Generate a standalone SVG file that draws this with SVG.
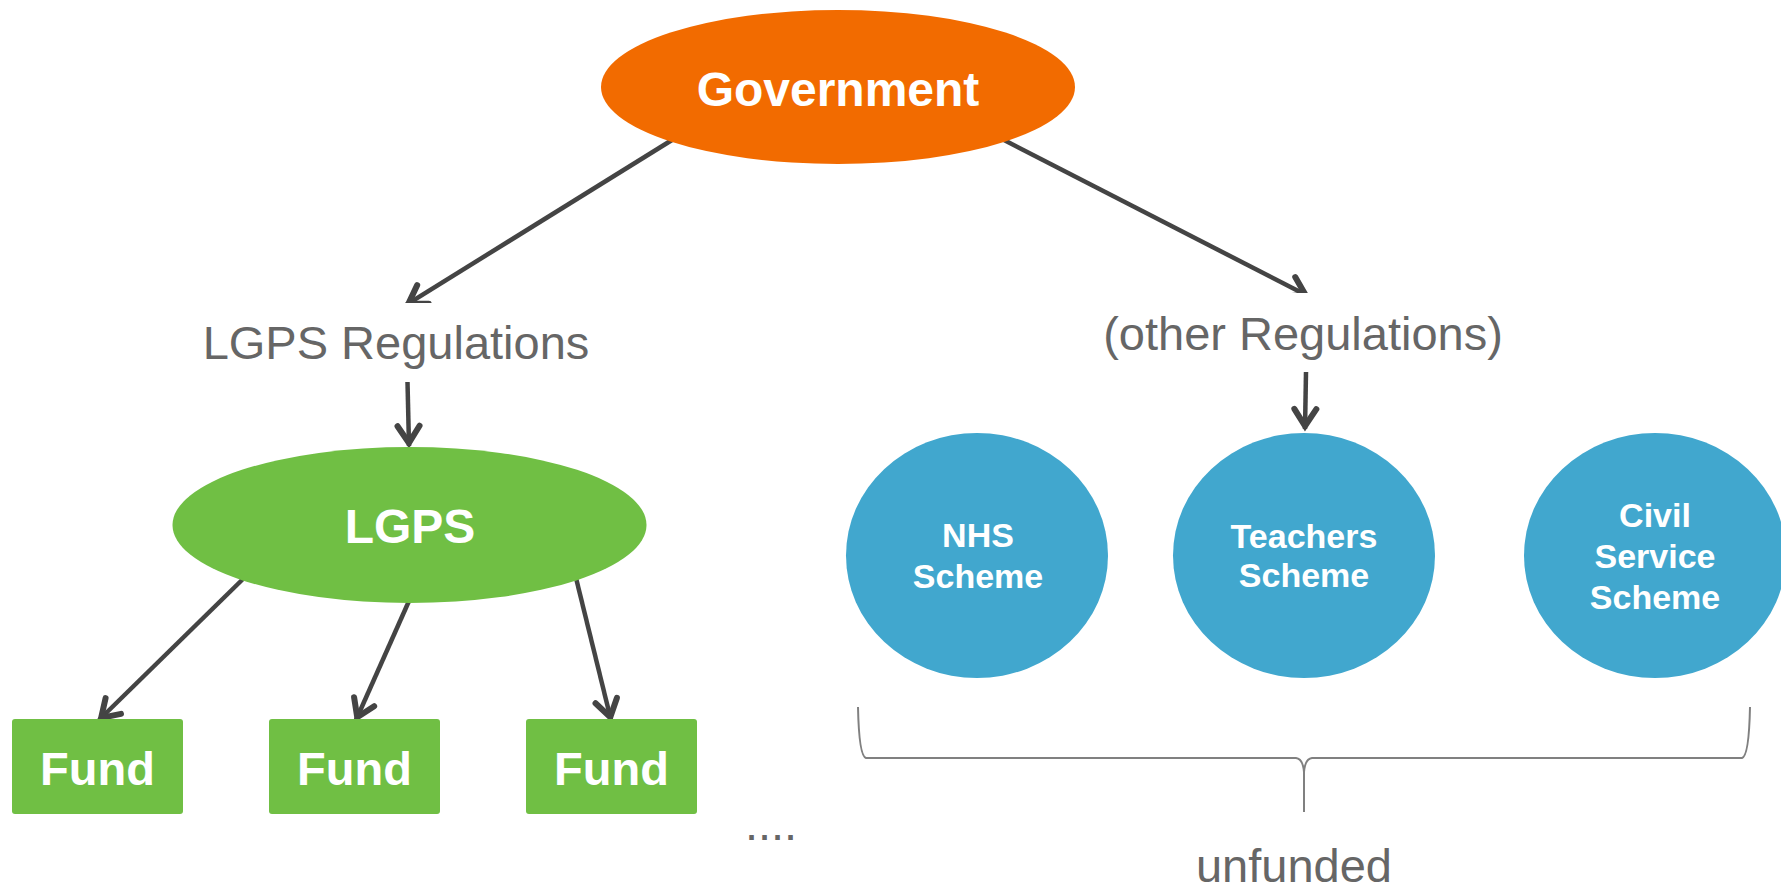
<svg xmlns="http://www.w3.org/2000/svg" width="1781" height="888" viewBox="0 0 1781 888">
<style>
.lbl{font-family:"Liberation Sans",Arial,sans-serif;fill:#666666;font-size:47px;text-anchor:middle}
.wt{font-family:"Liberation Sans",Arial,sans-serif;fill:#ffffff;font-weight:bold;text-anchor:middle}
.conn{stroke:#444444;stroke-width:4.5;fill:none}
.green{fill:#70bf44}
.blue{fill:#41a7ce}
</style>
<defs>
<marker id="arr" viewBox="-26 -15 30 30" markerWidth="30" markerHeight="30" refX="0" refY="0" orient="auto" markerUnits="userSpaceOnUse">
<path d="M-20,-11 L-3,0 L-20,11" fill="none" stroke="#444444" stroke-width="6" stroke-linecap="round" stroke-linejoin="miter"/>
</marker>
<clipPath id="c1"><rect x="0" y="0" width="900" height="303"/></clipPath>
<clipPath id="c2"><rect x="900" y="0" width="881" height="293"/></clipPath>
</defs>
<g id="connectors">
<line class="conn" x1="672" y1="140" x2="406" y2="305" marker-end="url(#arr)" clip-path="url(#c1)"/>
<line class="conn" x1="1004" y1="140" x2="1308" y2="296" marker-end="url(#arr)" clip-path="url(#c2)"/>
<line class="conn" x1="407.5" y1="382" x2="409" y2="446" marker-end="url(#arr)"/>
<line class="conn" x1="1306" y1="372" x2="1305" y2="429" marker-end="url(#arr)"/>
<line class="conn" x1="244" y1="578" x2="99" y2="720" marker-end="url(#arr)"/>
<line class="conn" x1="409" y1="601" x2="356" y2="720" marker-end="url(#arr)"/>
<line class="conn" x1="576" y1="578" x2="611" y2="720" marker-end="url(#arr)"/>
</g>
<g id="government">
<ellipse cx="838" cy="87" rx="237" ry="77" fill="#f26b00"/>
<text class="wt" x="838" y="106" font-size="48">Government</text>
</g>
<g id="lgps-regulations">
<text class="lbl" x="396" y="359">LGPS Regulations</text>
</g>
<g id="other-regulations">
<text class="lbl" x="1303" y="350">(other Regulations)</text>
</g>
<g id="lgps">
<ellipse class="green" cx="409.5" cy="525" rx="237" ry="78"/>
<text class="wt" x="410" y="543" font-size="48">LGPS</text>
</g>
<g id="fund1">
<rect class="green" x="12" y="719" width="171" height="95" rx="3"/>
<text class="wt" x="97.5" y="785" font-size="47">Fund</text>
</g>
<g id="fund2">
<rect class="green" x="269" y="719" width="171" height="95" rx="3"/>
<text class="wt" x="354.5" y="785" font-size="47">Fund</text>
</g>
<g id="fund3">
<rect class="green" x="526" y="719" width="171" height="95" rx="3"/>
<text class="wt" x="611.5" y="785" font-size="47">Fund</text>
</g>
<g id="more">
<text class="lbl" x="771" y="840">....</text>
</g>
<g id="nhs">
<ellipse class="blue" cx="977" cy="555.5" rx="131" ry="122.5"/>
<text class="wt" x="978" y="547" font-size="34">NHS</text>
<text class="wt" x="978" y="588" font-size="34">Scheme</text>
</g>
<g id="teachers">
<ellipse class="blue" cx="1304" cy="555.5" rx="131" ry="122.5"/>
<text class="wt" x="1304" y="548" font-size="34">Teachers</text>
<text class="wt" x="1304" y="587" font-size="34">Scheme</text>
</g>
<g id="civil">
<ellipse class="blue" cx="1655" cy="555.5" rx="131" ry="122.5"/>
<text class="wt" x="1655" y="527" font-size="34">Civil</text>
<text class="wt" x="1655" y="568" font-size="34">Service</text>
<text class="wt" x="1655" y="609" font-size="34">Scheme</text>
</g>
<g id="brace">
<path d="M858,707 Q859,756 866,758 L1296,758 Q1303,759 1304,772 L1304,812 M1750,707 Q1749,756 1742,758 L1312,758 Q1305,759 1304,772" fill="none" stroke="#808080" stroke-width="2"/>
<text class="lbl" x="1294" y="882">unfunded</text>
</g>
</svg>
